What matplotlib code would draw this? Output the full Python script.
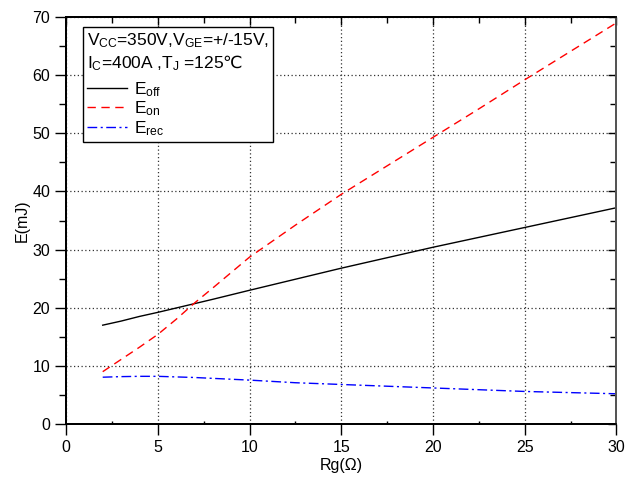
import matplotlib
matplotlib.use("Agg")
import matplotlib.pyplot as plt
from matplotlib.ticker import MultipleLocator

plt.rcParams["font.family"] = ["Liberation Sans", "DejaVu Sans"]
plt.rcParams["mathtext.fontset"] = "custom"
plt.rcParams["mathtext.rm"] = "Liberation Sans"
plt.rcParams["mathtext.sf"] = "Noto Sans CJK SC"

# switching energy vs gate resistance
rg = [2, 3, 4, 5, 6, 7, 8, 10, 12.5, 15, 17.5, 20, 22.5, 25, 27.5, 30]
e_off = [17.0, 17.7, 18.5, 19.2, 19.95, 20.7, 21.45, 23.0, 24.9, 26.8,
         28.6, 30.4, 32.1, 33.8, 35.5, 37.2]
e_on = [9.0, 11.1, 13.2, 15.4, 18.0, 20.8, 23.4, 28.7, 34.2, 39.5,
        44.4, 49.3, 54.2, 59.2, 64.1, 69.0]
e_rec = [8.05, 8.15, 8.2, 8.2, 8.1, 8.0, 7.85, 7.55, 7.1, 6.8,
         6.5, 6.2, 5.9, 5.6, 5.4, 5.2]

XLIM = (0, 30)
YLIM = (0, 70)

fig = plt.figure(figsize=(6.36, 4.79), dpi=100)
ax = fig.add_axes([0.1038, 0.1148, 0.8655, 0.8497])

ax.plot(rg, e_off, color="black", lw=1.0, label=r"E$\mathregular{_{off}}$")
ax.plot(rg, e_on, color="red", lw=1.0, dashes=(6, 4),
        label=r"E$\mathregular{_{on}}$")
ax.plot(rg, e_rec, color="blue", lw=1.0, dashes=(7, 2.5, 1.5, 2.5),
        label=r"E$\mathregular{_{rec}}$")

ax.set_xlim(*XLIM)
ax.set_ylim(*YLIM)
ax.xaxis.set_major_locator(MultipleLocator(5))
ax.xaxis.set_minor_locator(MultipleLocator(2.5))
ax.yaxis.set_major_locator(MultipleLocator(10))
ax.yaxis.set_minor_locator(MultipleLocator(5))
ax.grid(True, which="major", color="#333333", lw=0.9, linestyle=(0, (1, 2)))

ax.tick_params(axis="both", which="major", direction="out", length=8,
               width=1.0, labelsize=11.5, colors="black")
ax.tick_params(axis="y", which="minor", direction="out", length=5, width=1.0)
ax.tick_params(axis="x", which="minor", direction="in", length=2, width=1.0)

ax.set_xlabel("Rg(\u03a9)", fontsize=11.5, labelpad=2)
ax.set_ylabel("E(mJ)", fontsize=11.5, labelpad=2)

# right and top frames carry inward ticks only
for side, twin in (("right", ax.twinx()), ("top", ax.twiny())):
    twin.set_xlim(*XLIM)
    twin.set_ylim(*YLIM)
    twin.xaxis.set_major_locator(MultipleLocator(5))
    twin.xaxis.set_minor_locator(MultipleLocator(2.5))
    twin.yaxis.set_major_locator(MultipleLocator(10))
    twin.yaxis.set_minor_locator(MultipleLocator(5))
    twin.tick_params(which="major", direction="in", length=6, width=1.0)
    twin.tick_params(which="minor", direction="in", length=4, width=1.0)
    twin.tick_params(labelright=False, labeltop=False, labelleft=False,
                     labelbottom=False)
    if side == "right":
        twin.tick_params(left=False, bottom=False, top=False)
    else:
        twin.tick_params(left=False, bottom=False, right=False)

for a in fig.axes:
    for name, sp in a.spines.items():
        sp.set_linewidth(1.2)
        sp.set_color("#555555" if name == "right" else "black")

title = (r"V$\mathregular{_{CC}}$=350V,V$\mathregular{_{GE}}$=+/-15V," "\n"
         r"I$\mathregular{_{C}}$=400A ,T$\mathregular{_{J}}$ =125"
         "$\\mathsf{\u2103}$")
handles, labels = ax.get_legend_handles_labels()
leg = fig.axes[-1].legend(handles, labels, title=title, loc="upper left",
                          bbox_to_anchor=(0.03, 0.975), fontsize=12.5,
                          title_fontsize=12.5, alignment="left",
                          frameon=True, fancybox=False, edgecolor="black",
                          framealpha=1, handlelength=2.3, handletextpad=0.4,
                          labelspacing=0.05, borderpad=0.25,
                          borderaxespad=0)
leg.get_frame().set_linewidth(1.0)
leg._legend_box.sep = 5

fig.savefig("out.png", dpi=100)
